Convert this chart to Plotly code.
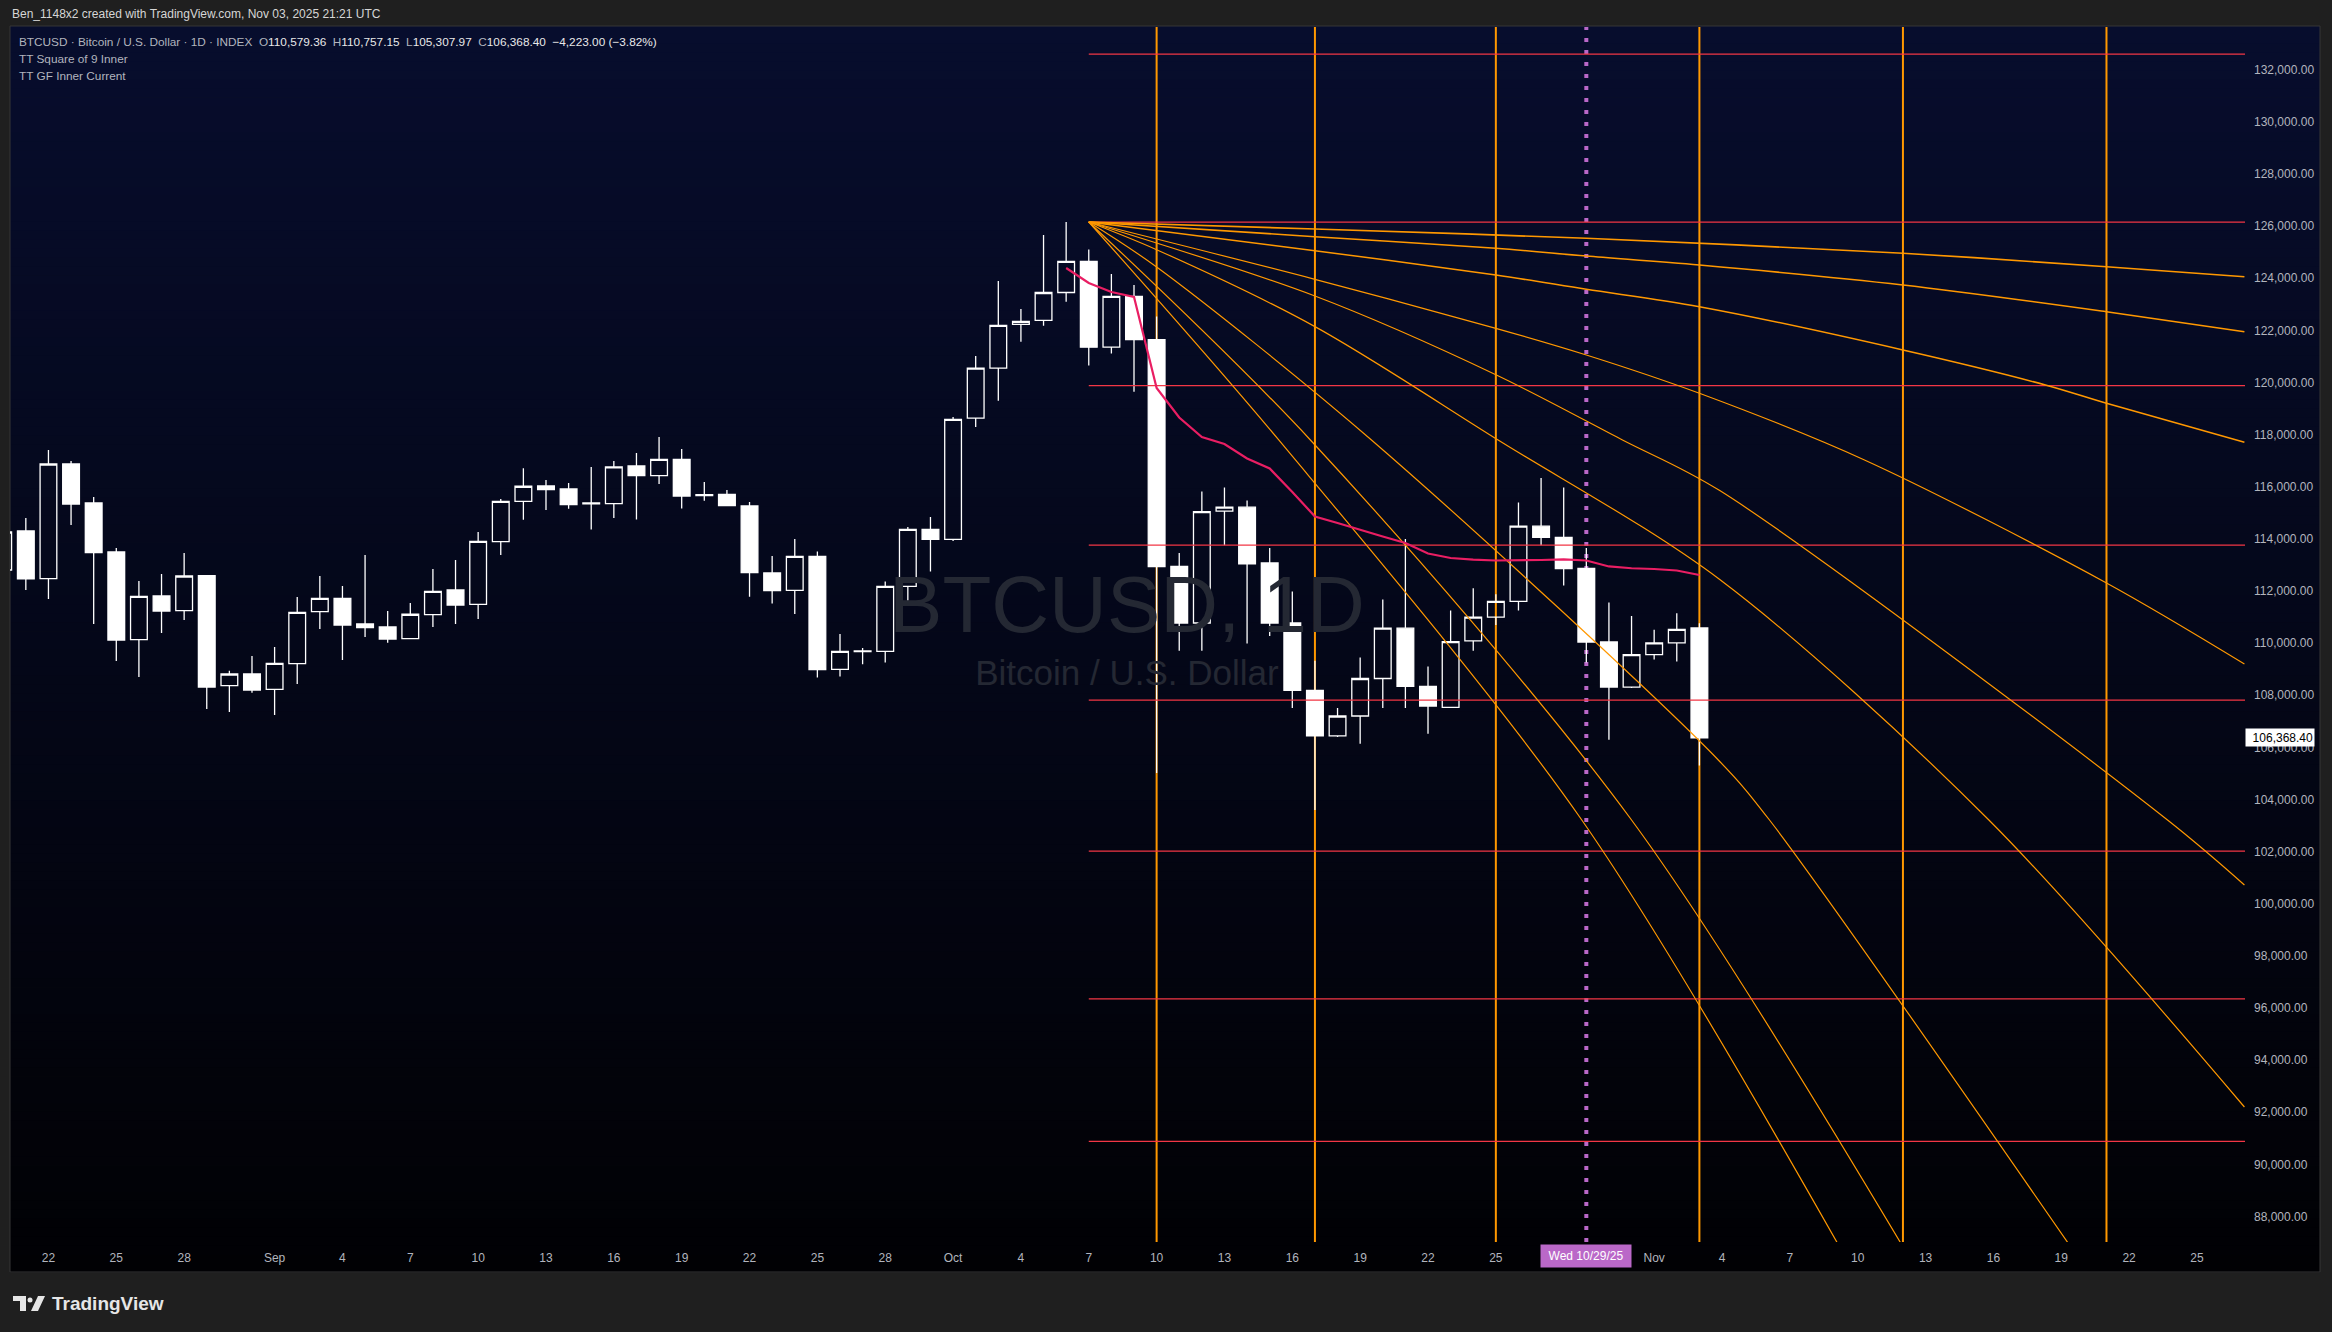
import pandas as pd
import plotly.graph_objects as go

# ---------------- data ----------------
candle_start = "2025-08-20"
candle_end = "2025-11-03"
opens = [112805, 114301, 112471, 116872, 115376, 113495, 110131, 111807, 111243, 112586, 108366, 108815,
         108228, 109210, 111205, 111719, 110733, 110618, 110169, 111090, 112037, 111489, 113891, 115441,
         116028, 115913, 115340, 115353, 116796, 116422, 117052, 115660, 115709, 115260, 112693, 112022,
         113327, 108995, 109670, 109682, 112175, 114367,
         113983, 118629, 120547, 122232, 122381, 123451, 124645, 121353, 123302, 121644, 112939, 110771,
         115061, 115214, 113073, 110771, 108189, 106443, 107203, 108642, 110572, 108339, 107537, 110085,
         110994, 111604, 114485, 114060, 112863, 110042, 108312,
         109555, 110008, 110579.36]
highs = [114600, 114800, 117409, 116987, 115605, 113649, 112383, 112651, 113457, 112613, 108941, 109505,
         109849, 111769, 112574, 112191, 113380, 111232, 111539, 112843, 113189, 114263, 115529, 116712,
         116258, 116143, 116761, 116987, 117297, 117907, 117447, 116181, 115874, 115414, 113342, 113994,
         113519, 110349, 109816, 112367, 114455, 114838,
         118675, 121016, 123893, 122818, 125658, 126157, 125105, 124161, 123739, 122527, 113457, 115820,
         115970, 115471, 113649, 111980, 109325, 107510, 109448, 111677, 113998, 109099, 111255, 112103,
         111876, 115395, 116335, 115970, 113649, 111557, 111040,
         110511, 111147, 110757.15]
lows = [112400, 112037, 111692, 114531, 110733, 109313, 108699, 110388, 110887, 107472, 107357, 108097,
        107242, 108431, 110541, 109352, 110235, 110016, 110158, 110618, 110733, 110925, 113380, 114735,
        115107, 115157, 114359, 114800, 114739, 116104, 115161, 115463, 115260, 111777, 111516, 111117,
        108680, 108722, 109187, 109256, 111627, 112751,
        113917, 118292, 119300, 121560, 122178, 123095, 120651, 121107, 119642, 105016, 109705, 109705,
        113756, 109981, 110273, 107510, 103601, 106397, 106140, 107510, 107510, 106520, 107510, 109705,
        110695, 111255, 113756, 112210, 109252, 106294, 108277,
        109371, 109298, 105307.97]
closes = [114263, 112461, 116872, 115337, 113468, 110119, 111796, 111232, 112574, 108316, 108815, 108201,
          109225, 111182, 111719, 110695, 110591, 110158, 111106, 111988, 111462, 113906, 115441, 116017,
          115886, 115311, 115380, 116761, 116422, 117052, 115644, 115700, 115272, 112709, 112010, 113327,
          108983, 109682, 109700, 112175, 114367, 113983,
          118586, 120547, 122189, 122343, 123451, 124645, 121353, 123302, 121648, 112939, 110771, 115045,
          115214, 113043, 110771, 108189, 106443, 107203, 108642, 110572, 108339, 107587, 110057, 110994,
          111604, 114485, 114060, 112863, 110042, 108312, 109555,
          110008, 110526, 106368.40]

gf_start = "2025-10-06"
gf_values = [124392, 123816, 123471, 123279, 119788, 118656, 117908, 117639, 117083, 116699, 115798,
             114858, 114608, 114340, 114090, 113841, 113438, 113265, 113200, 113170, 113170, 113189,
             113216, 113170, 112940, 112871, 112844, 112786, 112613]

sq9_start = "2025-10-07"
sq9_levels = [132600, 126150, 119880, 113760, 107810, 102020, 96350, 90880]

cycle_dates = ["2025-10-10", "2025-10-17", "2025-10-25", "2025-11-03", "2025-11-12", "2025-11-21"]
marker_date = "2025-10-29"

fan_origin = "2025-10-07"
c1_days = [0, 10.0, 22.0, 36.0, 45.0, 51.1]
c1_price = [126156, 125888, 125531, 124956, 124442, 124058]
c2_days = [0, 10.0, 18.0, 22.0, 27.0, 36.0, 45.0, 51.1]
c2_price = [126156, 125593, 125148, 124852, 124507, 123740, 122715, 121948]
c3_days = [0, 10.0, 18.0, 22.0, 27.0, 36.0, 42.3, 45.0, 51.1]
c3_price = [126156, 125055, 124123, 123575, 122907, 121246, 119903, 119201, 117704]
c4_days = [0, 10.0, 18.0, 22.0, 27.0, 34.3, 45.0, 51.1]
c4_price = [126156, 123958, 122078, 121054, 119585, 117026, 112307, 109198]
c5_days = [0, 10.0, 18.0, 23.6, 27.9, 47.7, 51.1]
c5_price = [126156, 123317, 120298, 117793, 115851, 103213, 100720]
c6_days = [0, 3.0, 10.0, 18.1, 27.9, 39.8, 51.1]
c6_price = [126156, 125094, 122143, 117793, 112437, 103213, 92202]
c7_days = [0, 3.0, 12.5, 27.9, 30.1, 43.3]
c7_price = [126156, 124430, 117793, 105458, 103213, 86985]
c8_days = [0, 9.8, 24.0, 35.9]
c8_price = [126156, 117793, 103213, 86985]
c9_days = [0, 8.4, 21.8, 33.1]
c9_price = [126156, 117793, 103213, 86985]

time_tick_dates = ["2025-08-22", "2025-08-25", "2025-08-28", "2025-09-01", "2025-09-04", "2025-09-07",
                   "2025-09-10", "2025-09-13", "2025-09-16", "2025-09-19", "2025-09-22", "2025-09-25",
                   "2025-09-28", "2025-10-01", "2025-10-04", "2025-10-07", "2025-10-10", "2025-10-13",
                   "2025-10-16", "2025-10-19", "2025-10-22", "2025-10-25", "2025-11-01", "2025-11-04",
                   "2025-11-07", "2025-11-10", "2025-11-13", "2025-11-16", "2025-11-19", "2025-11-22",
                   "2025-11-25"]
time_tick_text = ["22", "25", "28", "Sep", "4", "7", "10", "13", "16", "19", "22", "25", "28", "Oct",
                  "4", "7", "10", "13", "16", "19", "22", "25", "Nov", "4", "7", "10", "13", "16",
                  "19", "22", "25"]

x_range = ["2025-08-20 07:12", "2025-11-27 03:00"]
y_range = [87022, 133638]

# ---------------- layout geometry ----------------
W, H = 2332, 1332
PL, PR, PT, PB = 10, 2245, 27, 1242
FONT = "Liberation Sans, Arial, sans-serif"
TXT = "#b2b5be"


def px(x):
    return (x - PL) / (PR - PL)


def py(y):
    return (PB - y) / (PB - PT)


fig = go.Figure()

# watermark (drawn first, under everything)
fig.add_trace(go.Scatter(x=[pd.Timestamp("2025-10-08 16:30")] * 2, y=[111180, 108738], mode="text",
                         text=["BTCUSD, 1D", "Bitcoin / U.S. Dollar"],
                         textfont=dict(family=FONT, size=[80, 35], color="#242833"),
                         hoverinfo="skip", cliponaxis=False))

# square of 9 horizontal levels
for lv in sq9_levels:
    fig.add_trace(go.Scatter(x=[pd.Timestamp(sq9_start), pd.Timestamp("2025-11-29")], y=[lv, lv],
                             mode="lines", line=dict(color="#f23645", width=1.2), hoverinfo="skip"))

# fan curves
origin = pd.Timestamp(fan_origin)
fans = [(c1_days, c1_price, 1.6), (c2_days, c2_price, 1.6), (c3_days, c3_price, 1.5),
        (c4_days, c4_price, 1.2), (c5_days, c5_price, 1.2), (c6_days, c6_price, 1.2),
        (c7_days, c7_price, 1.2), (c8_days, c8_price, 1.2), (c9_days, c9_price, 1.2)]
for days, prices, w in fans:
    xs = [origin + pd.Timedelta(days=d) for d in days]
    fig.add_trace(go.Scatter(x=xs, y=prices, mode="lines",
                             line=dict(color="#ff9800", width=w, shape="spline", smoothing=0.9),
                             hoverinfo="skip"))

# GF inner current line
gf_dates = pd.date_range(gf_start, periods=len(gf_values), freq="D")
fig.add_trace(go.Scatter(x=gf_dates, y=gf_values, mode="lines",
                         line=dict(color="#e91e63", width=2.2), hoverinfo="skip"))

# candles
dates = pd.date_range(candle_start, candle_end, freq="D")
fig.add_trace(go.Candlestick(x=dates, open=opens, high=highs, low=lows, close=closes,
                             increasing=dict(line=dict(color="#ffffff", width=1.3), fillcolor="rgba(0,0,0,0)"),
                             decreasing=dict(line=dict(color="#ffffff", width=1.3), fillcolor="#ffffff"),
                             whiskerwidth=0, hoverinfo="skip"))

# ---------------- shapes ----------------
shapes = []
# gradient pane background
top_c = (7, 13, 45)
bot_c = (1, 1, 4)
y_top, y_bot = 26, 1272
N = 140
for i in range(N):
    f = i / (N - 1)
    c = tuple(round(top_c[k] + (bot_c[k] - top_c[k]) * f) for k in range(3))
    ya = y_top + (y_bot - y_top) * i / N
    yb = y_top + (y_bot - y_top) * (i + 1) / N + 0.6
    shapes.append(dict(type="rect", xref="paper", yref="paper", x0=px(10), x1=px(2320),
                       y0=py(yb), y1=py(ya), line=dict(width=0),
                       fillcolor="rgb(%d,%d,%d)" % c, layer="below"))
# pane border
shapes.append(dict(type="rect", xref="paper", yref="paper", x0=px(10), x1=px(2320), y0=py(1272), y1=py(26),
                   line=dict(color="#363636", width=1), fillcolor="rgba(0,0,0,0)", layer="below"))
# cycle verticals
for d in cycle_dates:
    shapes.append(dict(type="line", xref="x", yref="paper", x0=d, x1=d, y0=0, y1=1,
                       line=dict(color="#ff9800", width=2), layer="below"))
# marker dotted line
shapes.append(dict(type="line", xref="x", yref="paper", x0=marker_date, x1=marker_date, y0=0, y1=1,
                   line=dict(color="#ba68c8", width=4, dash="4px,8px"), layer="below"))
# TradingView logo icon
shapes.append(dict(type="path", xref="paper", yref="paper",
                   path="M %f %f L %f %f L %f %f L %f %f L %f %f L %f %f Z" % (
                       px(13), py(1296), px(26), py(1296), px(26), py(1311), px(20), py(1311),
                       px(20), py(1301), px(13), py(1301)),
                   fillcolor="#e6e6e6", line=dict(width=0)))
shapes.append(dict(type="circle", xref="paper", yref="paper", x0=px(27.5), x1=px(32.5),
                   y0=py(1302.5), y1=py(1297.5), fillcolor="#e6e6e6", line=dict(width=0)))
shapes.append(dict(type="path", xref="paper", yref="paper",
                   path="M %f %f L %f %f L %f %f L %f %f Z" % (
                       px(31), py(1311), px(38), py(1296), px(45), py(1296), px(38), py(1311)),
                   fillcolor="#e6e6e6", line=dict(width=0)))

# ---------------- annotations ----------------
nb = "\u00a0"
W_ = "#e8e8e8"
hdr = ('<span style="color:%s">BTCUSD · Bitcoin / U.S. Dollar · 1D · INDEX%s%sO</span>'
       '<span style="color:%s">110,579.36</span>%s%s<span style="color:%s">H</span>'
       '<span style="color:%s">110,757.15</span>%s%s<span style="color:%s">L</span>'
       '<span style="color:%s">105,307.97</span>%s%s<span style="color:%s">C</span>'
       '<span style="color:%s">106,368.40%s%s−4,223.00 (−3.82%%)</span>') % (
    TXT, nb, nb, W_, nb, nb, TXT, W_, nb, nb, TXT, W_, nb, nb, TXT, W_, nb, nb)
annotations = [
    dict(text="Ben_1148x2 created with TradingView.com, Nov 03, 2025 21:21 UTC", xref="paper", yref="paper",
         x=px(10), y=py(14), xanchor="left", yanchor="middle", showarrow=False,
         font=dict(family=FONT, size=12, color="#d6d6d6")),
    dict(text=hdr, xref="paper", yref="paper", x=px(17), y=py(42), xanchor="left", yanchor="middle",
         showarrow=False, font=dict(family=FONT, size=11.8, color=TXT)),
    dict(text="TT Square of 9 Inner", xref="paper", yref="paper", x=px(17), y=py(59), xanchor="left",
         yanchor="middle", showarrow=False, font=dict(family=FONT, size=11.8, color=TXT)),
    dict(text="TT GF Inner Current", xref="paper", yref="paper", x=px(17), y=py(76), xanchor="left",
         yanchor="middle", showarrow=False, font=dict(family=FONT, size=11.8, color=TXT)),
    dict(text=f"{closes[-1]:,.2f}", xref="paper", yref="y", x=1.0, y=closes[-1], xanchor="left",
         yanchor="middle", showarrow=False, bgcolor="#ffffff", width=66, height=15, borderpad=1,
         align="right", font=dict(family=FONT, size=12, color="#000000")),
    dict(text="Wed 10/29/25", xref="x", yref="paper", x=marker_date, y=py(1256), xanchor="center",
         yanchor="middle", showarrow=False, bgcolor="#ba68c8", width=88, height=20, borderpad=1,
         font=dict(family=FONT, size=12, color="#ffffff")),
    dict(text="<b>TradingView</b>", xref="paper", yref="paper", x=px(50), y=py(1303), xanchor="left",
         yanchor="middle", showarrow=False, font=dict(family=FONT, size=19, color="#e6e6e6")),
]

fig.update_layout(
    width=W, height=H,
    margin=dict(l=PL, r=W - PR, t=PT, b=H - PB, pad=0),
    paper_bgcolor="#1f1f1f", plot_bgcolor="rgba(0,0,0,0)",
    showlegend=False, boxgap=0.26, boxgroupgap=0,
    font=dict(family=FONT, size=12, color=TXT),
    xaxis=dict(type="date", range=x_range, rangeslider=dict(visible=False), showgrid=False,
               zeroline=False, showline=False, ticks="", tickvals=time_tick_dates, ticktext=time_tick_text,
               tickfont=dict(family=FONT, size=12, color=TXT), ticklabelstandoff=7),
    yaxis=dict(side="right", range=y_range, dtick=2000, tick0=0, tickformat=",.2f", showgrid=False,
               zeroline=False, showline=False, ticks="", ticklabelstandoff=8,
               tickfont=dict(family=FONT, size=12, color=TXT)),
    shapes=shapes, annotations=annotations,
)

fig.write_html("out.html", config={"displayModeBar": False},
               post_script="document.body.style.margin='0';document.body.style.overflow='hidden';")
